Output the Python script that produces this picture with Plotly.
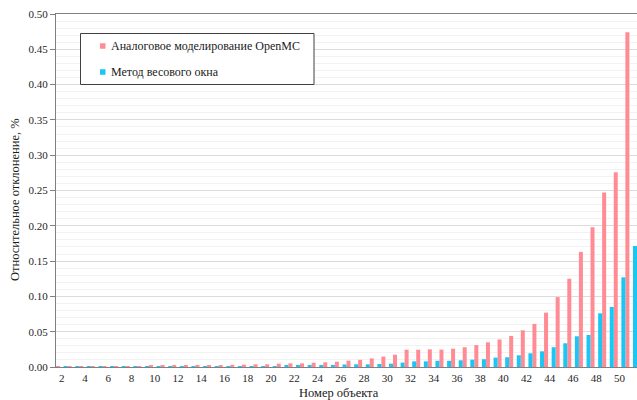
import plotly.graph_objects as go

# Object numbers shown on the horizontal axis
objects = list(range(2, 52))

# Relative deviation, %: analog Monte Carlo (OpenMC)
openmc_analog = [
    0.0012, 0.0012, 0.0013, 0.0013, 0.0013, 0.0014, 0.0014, 0.0014, 0.0015, 0.0016,
    0.0016, 0.0018, 0.0019, 0.0020, 0.0022, 0.0030, 0.0033, 0.0038, 0.0038, 0.0047,
    0.0052, 0.0052, 0.0061, 0.0066, 0.0075, 0.0090, 0.0102, 0.0122, 0.0148, 0.0175,
    0.0245, 0.0245, 0.0250, 0.0246, 0.0260, 0.0280, 0.0310, 0.0350, 0.0390, 0.0440,
    0.0520, 0.0610, 0.0770, 0.0990, 0.1250, 0.1630, 0.1980, 0.2470, 0.2760, 0.4740,
]

# Relative deviation, %: weight window method
weight_window = [
    0.0004, 0.0005, 0.0005, 0.0004, 0.0005, 0.0005, 0.0005, 0.0006, 0.0006, 0.0007,
    0.0007, 0.0008, 0.0009, 0.0010, 0.0010, 0.0011, 0.0012, 0.0013, 0.0014, 0.0016,
    0.0017, 0.0019, 0.0024, 0.0030, 0.0036, 0.0038, 0.0038, 0.0043, 0.0047, 0.0062,
    0.0080, 0.0080, 0.0088, 0.0088, 0.0095, 0.0104, 0.0110, 0.0133, 0.0138, 0.0166,
    0.0194, 0.0222, 0.0280, 0.0336, 0.0435, 0.0454, 0.0760, 0.0850, 0.1270, 0.1715,
]

x_ticks = list(range(2, 51, 2))
y_ticks = [round(0.05 * i, 2) for i in range(11)]

series_names = ["Аналоговое моделирование OpenMC", "Метод весового окна"]
series_colors = ["#FF8C94", "#1AC6F4"]

W, H = 637, 400
L, R, T, B = 56, 0, 14, 33
FONT = "Liberation Serif"

fig = go.Figure()
fig.add_trace(go.Bar(
    x=objects, y=openmc_analog, name=series_names[0],
    marker=dict(color=series_colors[0], line=dict(width=0)),
    width=0.344, offset=-0.5, showlegend=False,
))
fig.add_trace(go.Bar(
    x=objects, y=weight_window, name=series_names[1],
    marker=dict(color=series_colors[1], line=dict(width=0)),
    width=0.344, offset=0.156, showlegend=False,
))


def px_x(px):
    return (px - L) / (W - L - R)


def px_y(py):
    return (H - B - py) / (H - T - B)


# Framed legend drawn in pixel positions
shapes = [dict(type="rect", xref="paper", yref="paper",
               x0=px_x(80.5), x1=px_x(314), y0=px_y(84.5), y1=px_y(33.5),
               line=dict(color="#404040", width=1), fillcolor="white", layer="above")]
annotations = []
for i, (name, col) in enumerate(zip(series_names, series_colors)):
    cy = 46 + 26 * i
    shapes.append(dict(type="rect", xref="paper", yref="paper",
                       x0=px_x(100), x1=px_x(105.5), y0=px_y(cy + 2.75), y1=px_y(cy - 2.75),
                       line=dict(width=0), fillcolor=col, layer="above"))
    annotations.append(dict(xref="paper", yref="paper", x=px_x(108.5), y=px_y(cy),
                            xanchor="left", yanchor="middle", showarrow=False,
                            text=name, font=dict(family=FONT, size=12, color="#1a1a1a")))

# Axis titles
annotations.append(dict(xref="paper", yref="paper", x=px_x(339), y=px_y(393),
                        xanchor="center", yanchor="middle", showarrow=False,
                        text="Номер объекта", font=dict(family=FONT, size=12.5, color="#1a1a1a")))
annotations.append(dict(xref="paper", yref="paper", x=px_x(15), y=px_y(200),
                        xanchor="center", yanchor="middle", showarrow=False, textangle=-90,
                        text="Относительное отклонение, %",
                        font=dict(family=FONT, size=12.5, color="#1a1a1a")))

fig.update_layout(
    width=W, height=H,
    margin=dict(l=L, r=R, t=T, b=B, pad=0),
    paper_bgcolor="white", plot_bgcolor="white",
    barmode="overlay",
    shapes=shapes, annotations=annotations,
    font=dict(family=FONT, size=11, color="#262626"),
)
fig.update_xaxes(
    range=[1.5, 51.5], tickmode="array", tickvals=x_ticks, ticktext=[str(v) for v in x_ticks],
    showgrid=False, zeroline=False, showline=True, linecolor="#808080", linewidth=1,
    mirror=True, ticks="", ticklabelstandoff=1,
    tickfont=dict(family=FONT, size=11, color="#262626"),
)
fig.update_yaxes(
    range=[0, 0.5], tickmode="array", tickvals=y_ticks, ticktext=[f"{v:.2f}" for v in y_ticks],
    showgrid=True, gridcolor="#DCDCDC", gridwidth=1, zeroline=False,
    showline=True, linecolor="#808080", linewidth=1,
    ticks="outside", ticklen=5, tickcolor="#808080",
    minor=dict(dtick=0.01, tick0=0, showgrid=True, gridcolor="#F2F2F2", gridwidth=1, ticks=""),
    tickfont=dict(family=FONT, size=11, color="#262626"),
)

fig.write_html("out.html")
